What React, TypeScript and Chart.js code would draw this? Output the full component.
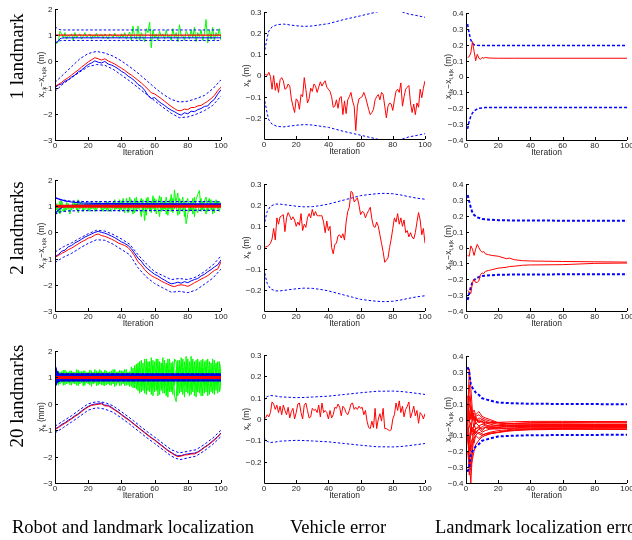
import React, { useEffect, useRef } from 'react';
import { Chart, registerables } from 'chart.js';
Chart.register(...registerables);

const W = 632;
const H = 540;
const RED = '#ff0000';
const BLUE = '#0000ff';
const GREEN = '#00ff00';

// ---------- categories / ticks ----------
const ITER = [
  0, 1, 2, 3, 4, 5, 6, 7, 8, 9,
  10, 11, 12, 13, 14, 15, 16, 17, 18, 19,
  20, 21, 22, 23, 24, 25, 26, 27, 28, 29,
  30, 31, 32, 33, 34, 35, 36, 37, 38, 39,
  40, 41, 42, 43, 44, 45, 46, 47, 48, 49,
  50, 51, 52, 53, 54, 55, 56, 57, 58, 59,
  60, 61, 62, 63, 64, 65, 66, 67, 68, 69,
  70, 71, 72, 73, 74, 75, 76, 77, 78, 79,
  80, 81, 82, 83, 84, 85, 86, 87, 88, 89,
  90, 91, 92, 93, 94, 95, 96, 97, 98, 99,
  100,
];
const ITER2 = [
  0, 2, 4, 6, 8, 10, 12, 14, 16, 18,
  20, 22, 24, 26, 28, 30, 32, 34, 36, 38,
  40, 42, 44, 46, 48, 50, 52, 54, 56, 58,
  60, 62, 64, 66, 68, 70, 72, 74, 76, 78,
  80, 82, 84, 86, 88, 90, 92, 94, 96, 98,
  100,
];
const ITER5 = [0, 5, 10, 15, 20, 25, 30, 35, 40, 45, 50, 55, 60, 65, 70, 75, 80, 85, 90, 95, 100];

const X_TICKS = [0, 20, 40, 60, 80, 100];
const X_TICK_LABELS = ['0', '20', '40', '60', '80', '100'];
const Y1_TICKS = [-3, -2, -1, 0, 1, 2];
const Y1_TICK_LABELS = ['\u22123', '\u22122', '\u22121', '0', '1', '2'];
const Y2_TICKS = [-0.2, -0.1, 0, 0.1, 0.2, 0.3];
const Y2_TICK_LABELS = ['\u22120.2', '\u22120.1', '0', '0.1', '0.2', '0.3'];
const Y3_TICKS = [-0.4, -0.3, -0.2, -0.1, 0, 0.1, 0.2, 0.3, 0.4];
const Y3_TICK_LABELS = ['\u22120.4', '\u22120.3', '\u22120.2', '\u22120.1', '0', '0.1', '0.2', '0.3', '0.4'];

const ROW_LABELS = ['1 landmark', '2 landmarks', '20 landmarks'];
const COL_LABELS = ['Robot and landmark localization', 'Vehicle error', 'Landmark localization error'];

// ---------- column 1, row 1 ----------
const R1_TRUE = [
  -0.95, -0.88, -0.8, -0.7, -0.62, -0.52, -0.42, -0.33, -0.22, -0.12,
  -0.02, 0.06, 0.14, 0.1, 0.05, 0.1, 0.02, -0.04, -0.1, -0.18,
  -0.26, -0.34, -0.44, -0.52, -0.62, -0.72, -0.82, -0.94, -1.06, -1.2,
  -1.24, -1.33, -1.42, -1.52, -1.62, -1.72, -1.8, -1.88, -1.88, -1.82,
  -1.84, -1.76, -1.76, -1.7, -1.68, -1.6, -1.52, -1.42, -1.3, -1.12,
  -0.98,
];
const R1_EST = [
  -1.0, -0.9, -0.86, -0.76, -0.7, -0.6, -0.52, -0.4, -0.33, -0.22,
  -0.12, -0.06, 0.02, -0.03, -0.06, 0.0, -0.1, -0.14, -0.2, -0.28,
  -0.38, -0.45, -0.56, -0.64, -0.74, -0.88, -0.96, -1.1, -1.3, -1.42,
  -1.38, -1.5, -1.6, -1.68, -1.78, -1.86, -1.92, -2.0, -2.05, -1.96,
  -2.0, -1.9, -1.92, -1.84, -1.8, -1.72, -1.7, -1.55, -1.45, -1.25,
  -1.08,
];
const R1_UP = [-0.8, -0.5, -0.2, 0.1, 0.3, 0.38, 0.32, 0.2, 0.02, -0.2, -0.45, -0.72, -1.0, -1.25, -1.45, -1.55, -1.52, -1.42, -1.3, -1.05, -0.7];
const R1_LO = [-1.15, -0.85, -0.62, -0.4, -0.2, -0.12, -0.15, -0.3, -0.52, -0.75, -1.0, -1.25, -1.5, -1.75, -1.98, -2.15, -2.12, -2.02, -1.88, -1.68, -1.32];
const LM1_TRUE_X = [0, 100];
const LM1_TRUE = [1.0, 1.0];
const LM1_EST_X = [0, 1, 2, 3, 4, 6, 100];
const LM1_EST = [0.75, 0.72, 0.78, 0.86, 0.89, 0.9, 0.9];
const LM1_B_X = [0, 1, 2, 3, 5, 100];
const LM1_UP = [1.32, 1.28, 1.24, 1.21, 1.2, 1.2];
const LM1_LO = [0.72, 0.74, 0.77, 0.79, 0.8, 0.8];
const G1 = [
  0.8, 0.68, 0.75, 1.15, 1.05, 0.9, 1.1, 0.85, 1.0, 0.95,
  1.05, 0.8, 1.1, 0.9, 1.0, 1.05, 0.85, 0.95, 1.1, 0.9,
  0.98, 1.05, 0.85, 1.0, 0.92, 1.08, 0.9, 1.0, 1.02, 0.88,
  1.05, 0.95, 0.85, 1.05, 1.0, 0.9, 1.08, 0.95, 1.0, 0.88,
  1.05, 0.92, 1.1, 0.85, 1.0, 1.12, 0.8, 1.35, 0.9, 0.85,
  1.35, 0.8, 1.1, 0.95, 0.75, 1.25, 1.1, 1.5, 0.52, 1.2,
  0.9, 1.05, 0.8, 1.15, 0.95, 1.05, 0.85, 1.2, 0.9, 1.0,
  0.8, 1.25, 0.9, 1.1, 0.75, 1.4, 0.95, 1.0, 0.8, 1.15,
  1.05, 0.85, 1.2, 0.9, 1.3, 0.75, 1.1, 0.95, 1.2, 0.8,
  1.05, 1.6, 0.7, 1.2, 0.85, 1.3, 0.8, 1.1, 0.95, 1.25,
  0.8,
];

// ---------- column 1, row 2 ----------
const R2_TRUE = [
  -0.95, -0.88, -0.8, -0.74, -0.66, -0.6, -0.52, -0.44, -0.36, -0.3,
  -0.22, -0.18, -0.1, -0.06, -0.12, -0.15, -0.2, -0.26, -0.32, -0.4,
  -0.45, -0.5, -0.58, -0.72, -0.9, -1.12, -1.25, -1.42, -1.55, -1.65,
  -1.72, -1.78, -1.86, -1.92, -1.98, -2.04, -2.07, -2.02, -2.0, -2.02,
  -2.06, -2.0, -1.92, -1.86, -1.78, -1.72, -1.65, -1.55, -1.45, -1.4,
  -1.12,
];
const R2_EST = [
  -0.92, -0.85, -0.72, -0.68, -0.55, -0.5, -0.4, -0.34, -0.26, -0.18,
  -0.12, -0.06, 0.0, 0.04, 0.0, -0.03, -0.08, -0.14, -0.2, -0.28,
  -0.36, -0.42, -0.5, -0.62, -0.8, -0.98, -1.1, -1.28, -1.4, -1.5,
  -1.6, -1.66, -1.75, -1.82, -1.9, -1.96, -1.94, -1.9, -1.94, -1.88,
  -1.92, -1.85, -1.8, -1.76, -1.66, -1.6, -1.5, -1.42, -1.32, -1.24,
  -1.05,
];
const R2_UP = [-0.75, -0.55, -0.4, -0.22, -0.05, 0.08, 0.05, -0.08, -0.25, -0.45, -0.85, -1.2, -1.5, -1.65, -1.8, -1.76, -1.8, -1.7, -1.5, -1.25, -0.9];
const R2_LO = [-1.15, -0.95, -0.8, -0.6, -0.42, -0.28, -0.3, -0.45, -0.65, -0.85, -1.35, -1.7, -1.95, -2.12, -2.28, -2.25, -2.3, -2.2, -1.98, -1.75, -1.4];
const LM2_TRUE_X = [0, 100];
const LM2_TRUE = [1.0, 1.0];
const LM2_EST_A_X = [0, 2, 4, 6, 10, 15, 25, 40, 100];
const LM2_EST_A = [1.32, 1.28, 1.24, 1.2, 1.16, 1.13, 1.11, 1.1, 1.09];
const LM2_EST_B_X = [0, 2, 4, 6, 10, 20, 100];
const LM2_EST_B = [0.72, 0.85, 0.95, 1.0, 1.03, 1.05, 1.06];
const LM2_B_X = [0, 3, 8, 15, 100];
const LM2_UP = [1.33, 1.25, 1.2, 1.18, 1.17];
const LM2_LO = [0.7, 0.78, 0.82, 0.83, 0.84];
const G2A = [
  0.95, 1.1, 0.75, 1.2, 0.9, 0.8, 1.05, 0.85, 1.1, 0.7,
  1.0, 0.9, 1.15, 0.85, 1.25, 0.9, 1.0, 0.8, 1.1, 0.95,
  0.85, 1.1, 0.9, 1.05, 0.8, 1.15, 0.95, 1.0, 0.85, 1.1,
  0.9, 1.2, 0.8, 1.05, 0.95, 1.15, 0.85, 1.1, 0.9, 1.25,
  0.85, 1.3, 0.9, 1.1, 0.75, 1.35, 1.0, 0.7, 1.3, 0.85,
  1.2, 0.9, 0.6, 1.25, 0.45, 1.3, 0.9, 1.1, 0.75, 1.4,
  0.8, 1.25, 0.95, 0.6, 1.35, 0.85, 1.2, 0.7, 1.1, 0.9,
  1.45, 0.75, 1.62, 1.0, 0.65, 1.3, 1.05, 0.8, 1.2, 0.33,
  0.7, 1.1, 0.85, 1.3, 0.6, 1.25, 1.45, 1.6, 0.8, 1.2,
  0.9, 0.7, 1.15, 1.3, 0.85, 1.1, 0.75, 1.25, 0.9, 1.2,
  1.05,
];
const G2B = [
  1.15, 0.85, 1.05, 0.7, 1.2, 1.0, 0.8, 1.15, 0.9, 1.05,
  0.85, 1.2, 0.95, 1.1, 0.75, 1.05, 1.2, 0.9, 0.85, 1.15,
  1.05, 0.8, 1.2, 0.9, 1.1, 0.85, 1.0, 1.2, 0.95, 0.8,
  1.1, 0.85, 1.15, 0.95, 0.8, 1.05, 1.25, 0.9, 1.15, 0.8,
  1.2, 0.95, 0.75, 1.3, 1.05, 0.8, 1.25, 1.1, 0.75, 1.35,
  0.9, 1.15, 1.3, 0.8, 1.1, 0.65, 1.35, 0.85, 1.2, 0.9,
  1.3, 0.7, 1.1, 1.4, 0.8, 1.15, 0.9, 1.35, 0.65, 1.25,
  0.8, 1.3, 0.9, 1.2, 1.5, 0.7, 1.1, 1.35, 0.6, 1.15,
  1.3, 0.8, 1.2, 0.7, 1.35, 0.9, 0.75, 1.1, 1.3, 0.85,
  1.2, 1.35, 0.8, 1.0, 1.25, 0.7, 1.2, 0.95, 1.15, 0.8,
  1.1,
];

// ---------- column 1, row 3 ----------
const R3_TRUE = [
  -0.98, -0.9, -0.82, -0.74, -0.66, -0.57, -0.48, -0.4, -0.3, -0.2,
  -0.12, -0.06, -0.04, -0.02, 0.0, -0.08, -0.08, -0.16, -0.24, -0.32,
  -0.42, -0.52, -0.6, -0.7, -0.8, -0.9, -1.0, -1.1, -1.2, -1.3,
  -1.38, -1.48, -1.58, -1.68, -1.78, -1.86, -1.94, -2.0, -1.98, -1.94,
  -1.93, -1.9, -1.9, -1.84, -1.76, -1.66, -1.58, -1.48, -1.38, -1.26,
  -1.12,
];
const R3_EST = [
  -0.95, -0.88, -0.78, -0.72, -0.62, -0.55, -0.45, -0.38, -0.27, -0.18,
  -0.1, -0.04, -0.01, 0.0, 0.03, -0.05, -0.06, -0.13, -0.22, -0.3,
  -0.4, -0.49, -0.58, -0.68, -0.78, -0.88, -0.98, -1.08, -1.18, -1.28,
  -1.36, -1.46, -1.56, -1.66, -1.76, -1.84, -1.92, -1.97, -1.96, -1.92,
  -1.9, -1.88, -1.87, -1.82, -1.74, -1.64, -1.56, -1.46, -1.35, -1.24,
  -1.1,
];
const R3_UP = [-0.85, -0.65, -0.45, -0.22, 0.0, 0.08, 0.05, -0.08, -0.3, -0.53, -0.78, -1.03, -1.26, -1.5, -1.74, -1.86, -1.8, -1.74, -1.54, -1.3, -1.0];
const R3_LO = [-1.1, -0.9, -0.69, -0.47, -0.24, -0.15, -0.2, -0.32, -0.54, -0.77, -1.02, -1.27, -1.5, -1.74, -1.98, -2.12, -2.05, -1.98, -1.78, -1.54, -1.24];
const LM3_TRUE_X = [0, 100];
const LM3_TRUE = [1.0, 1.0];
const LM3_EST_X = [0, 1, 2, 3, 5, 8, 15, 30, 60, 100];
const LM3_EST_A = [1.42, 1.2, 1.1, 1.12, 1.12, 1.12, 1.12, 1.12, 1.12, 1.12];
const LM3_EST_B = [0.7, 0.8, 0.88, 0.88, 0.88, 0.88, 0.88, 0.88, 0.88, 0.88];
const LM3_EST_C = [1.3, 1.15, 1.06, 1.05, 1.06, 1.05, 1.06, 1.05, 1.06, 1.05];
const LM3_EST_D = [0.8, 0.9, 0.95, 0.94, 0.95, 0.94, 0.95, 0.94, 0.94, 0.95];
const LM3_EST_E = [1.2, 1.08, 1.02, 1.0, 1.01, 1.0, 1.01, 1.0, 1.01, 1.0];
const LM3_EST_F = [0.9, 0.95, 0.97, 0.98, 0.97, 0.98, 0.97, 0.98, 0.97, 0.98];
const LM3_B_X = [0, 1, 2, 3, 5, 100];
const LM3_UP = [1.4, 1.25, 1.16, 1.13, 1.12, 1.12];
const LM3_LO = [0.65, 0.78, 0.85, 0.87, 0.88, 0.88];
const G3A = [
  0.75, 1.25, 0.7, 1.2, 0.8, 1.28, 0.72, 1.22, 0.78, 1.25,
  0.7, 1.2, 0.75, 1.3, 0.68, 1.22, 0.8, 1.25, 0.7, 1.18,
  0.75, 1.28, 0.66, 1.2, 0.78, 1.25, 0.7, 1.3, 0.72, 1.2,
  0.68, 1.25, 0.75, 1.22, 0.7, 1.3, 0.65, 1.2, 0.78, 1.28,
  0.7, 1.25, 0.68, 1.3, 0.72, 1.22, 0.66, 1.35, 0.6, 1.5,
  0.5, 1.6, 0.45, 1.55, 0.4, 1.7, 0.5, 1.6, 0.35, 1.65,
  0.45, 1.7, 0.3, 1.6, 0.5, 1.75, 0.4, 1.55, 0.25, 1.7,
  0.45, 1.6, 0.3, 0.08, 1.65, 0.4, 1.75, 0.35, 1.6, 0.45,
  1.7, 0.3, 1.8, 0.45, 1.6, 0.25, 1.7, 0.4, 1.65, 0.3,
  1.6, 0.45, 1.7, 0.35, 1.55, 0.4, 1.65, 0.5, 1.6, 0.45,
  1.5,
];
const G3B = [
  1.2, 0.8, 1.25, 0.75, 1.22, 0.7, 1.28, 0.75, 1.2, 0.72,
  1.25, 0.78, 1.2, 0.7, 1.28, 0.75, 1.22, 0.68, 1.25, 0.8,
  1.2, 0.72, 1.25, 0.75, 1.3, 0.68, 1.22, 0.75, 1.25, 0.7,
  1.28, 0.72, 1.2, 0.7, 1.25, 0.75, 1.3, 0.7, 1.22, 0.68,
  1.25, 0.75, 1.3, 0.7, 1.2, 0.65, 1.4, 0.6, 1.45, 0.55,
  1.55, 0.4, 1.65, 0.5, 1.7, 0.35, 1.6, 0.45, 1.75, 0.3,
  1.6, 0.5, 1.7, 0.35, 1.55, 0.4, 1.65, 0.3, 1.7, 0.45,
  1.55, 0.35, 1.7, 1.6, 0.3, 1.65, 0.45, 1.7, 0.25, 1.8,
  0.4, 1.6, 0.35, 1.7, 0.3, 1.65, 0.45, 1.6, 0.3, 1.7,
  0.4, 1.65, 0.3, 1.6, 0.45, 1.7, 0.35, 1.55, 0.4, 1.6,
  0.5,
];
const G3C = [
  0.9, 1.1, 0.85, 1.15, 0.95, 1.05, 0.88, 1.12, 0.92, 1.08,
  0.85, 1.15, 0.9, 1.1, 0.95, 1.12, 0.85, 1.1, 0.9, 1.05,
  0.88, 1.15, 0.92, 1.1, 0.85, 1.12, 0.9, 1.08, 0.95, 1.15,
  0.85, 1.1, 0.92, 1.15, 0.88, 1.05, 0.9, 1.12, 0.85, 1.1,
  0.9, 1.15, 0.85, 1.1, 0.92, 1.12, 0.8, 1.2, 0.75, 1.3,
  0.7, 1.35, 0.65, 1.3, 0.6, 1.4, 0.7, 1.35, 0.6, 1.45,
  0.65, 1.3, 0.55, 1.4, 0.7, 1.35, 0.6, 1.45, 0.65, 1.3,
  0.55, 1.4, 0.7, 1.3, 0.6, 1.45, 0.65, 1.35, 0.7, 1.4,
  0.6, 1.35, 0.55, 1.45, 0.7, 1.3, 0.6, 1.4, 0.65, 1.35,
  0.7, 1.4, 0.6, 1.3, 0.65, 1.45, 0.55, 1.35, 0.7, 1.3,
  0.8,
];

// ---------- column 2: vehicle error ----------
const VE1 = [
  0.0, 0.005, 0.0, 0.015, -0.005, -0.065, 0.0, -0.07, -0.035, -0.08,
  -0.02, -0.01, -0.025, -0.065, -0.06, -0.04, -0.05, -0.11, -0.145, -0.175,
  -0.11, -0.12, -0.16, -0.09, -0.1, -0.01, -0.065, -0.13, -0.11, -0.06,
  -0.075, -0.04, -0.05, -0.08, -0.055, -0.03, -0.05, -0.035, -0.025, -0.055,
  -0.065, -0.075, -0.1, -0.15, -0.145, -0.115, -0.155, -0.105, -0.1, -0.185,
  -0.12, -0.18, -0.115, -0.1, -0.08, -0.12, -0.145, -0.26, -0.145, -0.11,
  -0.105, -0.1, -0.08, -0.1, -0.13, -0.16, -0.185, -0.175, -0.16, -0.115,
  -0.1, -0.09, -0.115, -0.08, -0.09, -0.145, -0.2, -0.145, -0.13, -0.135,
  -0.165, -0.115, -0.075, -0.065, -0.08, -0.035, -0.145, -0.1, -0.065, -0.055,
  -0.047, -0.13, -0.175, -0.135, -0.185, -0.13, -0.15, -0.065, -0.105, -0.06,
  -0.025,
];
const VB1_X = [0, 1, 2, 3, 5, 8, 12, 20, 25, 30, 40, 50, 60, 70, 75, 80, 86, 90, 95, 100];
const VB1_UP = [0.1, 0.14, 0.18, 0.21, 0.23, 0.24, 0.243, 0.235, 0.232, 0.234, 0.245, 0.265, 0.282, 0.3, 0.31, 0.31, 0.3, 0.29, 0.283, 0.275];
const VB1_LO = [-0.1, -0.14, -0.18, -0.21, -0.23, -0.24, -0.243, -0.235, -0.232, -0.234, -0.245, -0.265, -0.282, -0.3, -0.31, -0.31, -0.3, -0.29, -0.283, -0.275];
const VE2 = [
  0.0, 0.003, 0.005, 0.01, 0.02, 0.04, 0.09, 0.035, 0.14, 0.11,
  0.145, 0.15, 0.155, 0.075, 0.14, 0.165, 0.15, 0.13, 0.145, 0.13,
  0.1, 0.12, 0.105, 0.16, 0.08, 0.11, 0.095, 0.14, 0.16, 0.14,
  0.18, 0.15, 0.17, 0.15, 0.15, 0.15, 0.15, 0.12, 0.07, 0.125,
  0.08, 0.1, 0.0, -0.03, 0.015, 0.02, 0.055, 0.06, 0.045, 0.065,
  0.035, 0.12, 0.17, 0.19, 0.265, 0.26, 0.215, 0.225, 0.235, 0.2,
  0.155, 0.17, 0.165, 0.14, 0.16, 0.175, 0.19, 0.135, 0.1, 0.095,
  0.12, 0.1, 0.06, 0.02, -0.02, -0.07, -0.06, -0.05, 0.0, 0.04,
  0.09, 0.14, 0.12, 0.16, 0.11, 0.14, 0.1, 0.13, 0.07, 0.08,
  0.05, 0.07, 0.05, 0.04, 0.07, 0.12, 0.165, 0.13, 0.06, 0.09,
  0.02,
];
const VB2_X = [0, 1, 2, 4, 7, 10, 15, 20, 25, 30, 35, 40, 45, 50, 55, 60, 65, 70, 75, 80, 85, 90, 95, 100];
const VB2_UP = [0.1, 0.14, 0.17, 0.195, 0.205, 0.205, 0.2, 0.195, 0.192, 0.193, 0.198, 0.205, 0.215, 0.225, 0.235, 0.245, 0.25, 0.254, 0.256, 0.254, 0.248, 0.24, 0.233, 0.228];
const VB2_LO = [-0.1, -0.14, -0.17, -0.195, -0.205, -0.205, -0.2, -0.195, -0.192, -0.193, -0.198, -0.205, -0.215, -0.225, -0.235, -0.245, -0.25, -0.254, -0.256, -0.254, -0.248, -0.24, -0.233, -0.228];
const VE3 = [
  0.0, 0.005, 0.02, 0.01, 0.03, 0.08, 0.07, 0.045, 0.065, 0.03,
  0.06, 0.02, 0.065, 0.04, 0.02, 0.055, 0.005, 0.035, 0.05, 0.0,
  0.03, 0.07, 0.075, 0.03, 0.0, 0.065, 0.075, 0.04, 0.005, 0.01,
  0.05, 0.04, 0.045, 0.03, 0.065, 0.01, 0.075, 0.03, 0.04, 0.03,
  0.0, 0.04, 0.005, 0.02, 0.055, 0.05, 0.07, 0.055, 0.015, 0.06,
  0.05, 0.03, 0.02, 0.04, 0.07, 0.075, 0.045, 0.055, 0.045, 0.06,
  0.05, 0.055, 0.02, 0.04, -0.01, -0.04, -0.045, -0.01, -0.04, 0.05,
  -0.045, 0.0, 0.025, -0.01, 0.05, -0.045, -0.045, -0.05, -0.055, -0.05,
  0.0, 0.02, 0.075, 0.04, 0.085, 0.03, 0.06, 0.01, 0.045, 0.06,
  0.08, 0.005, 0.03, 0.06, 0.015, 0.04, -0.02, 0.03, 0.02, 0.0,
  0.025,
];
const VB3_X = [0, 1, 2, 4, 7, 10, 15, 20, 25, 30, 40, 50, 60, 70, 80, 85, 90, 95, 100];
const VB3_UP = [0.085, 0.1, 0.105, 0.11, 0.108, 0.104, 0.102, 0.1, 0.101, 0.103, 0.107, 0.115, 0.123, 0.13, 0.131, 0.129, 0.125, 0.12, 0.115];
const VB3_LO = [-0.085, -0.1, -0.105, -0.11, -0.108, -0.104, -0.102, -0.1, -0.101, -0.103, -0.107, -0.115, -0.123, -0.13, -0.131, -0.129, -0.125, -0.12, -0.115];

// ---------- column 3: landmark error ----------
const LE1_X = [1, 2, 3, 4, 5, 6, 7, 8, 9, 10, 11, 12, 13, 15, 20, 30, 100];
const LE1 = [0.12, 0.125, 0.15, 0.22, 0.16, 0.1, 0.14, 0.115, 0.108, 0.12, 0.115, 0.12, 0.118, 0.116, 0.115, 0.115, 0.115];
const LB1_X = [1, 2, 3, 4, 5, 7, 10, 100];
const LB1_UP = [0.33, 0.27, 0.23, 0.21, 0.2, 0.197, 0.195, 0.195];
const LB1_LO_X = [1, 2, 3, 4, 6, 8, 12, 100];
const LB1_LO = [-0.33, -0.28, -0.25, -0.23, -0.21, -0.2, -0.196, -0.195];

const LE2_X = [1, 2, 3, 4, 5, 6, 7, 8, 9, 10, 11, 12, 14, 16, 20, 25, 27, 30, 35, 40, 60, 80, 100];
const LE2_A = [-0.05, -0.055, 0.01, -0.01, -0.05, -0.01, 0.02, 0.0, -0.02, -0.03, -0.025, -0.04, -0.045, -0.05, -0.055, -0.07, -0.067, -0.077, -0.083, -0.085, -0.088, -0.09, -0.092];
const LE2_B = [-0.27, -0.28, -0.29, -0.22, -0.2, -0.22, -0.22, -0.21, -0.17, -0.16, -0.165, -0.15, -0.145, -0.14, -0.13, -0.125, -0.12, -0.118, -0.112, -0.11, -0.108, -0.1, -0.098];
const LB2_X = [1, 2, 3, 4, 5, 7, 10, 15, 20, 30, 100];
const LB2_UP = [0.33, 0.29, 0.25, 0.22, 0.205, 0.19, 0.18, 0.175, 0.172, 0.17, 0.168];
const LB2_LO = [-0.33, -0.29, -0.25, -0.22, -0.205, -0.19, -0.18, -0.175, -0.172, -0.17, -0.168];

const LE3_X = [1, 2, 3, 4, 5, 6, 8, 10, 12, 15, 20, 25, 30, 40, 60, 80, 100];
const LE3_S1 = [0.0, 0.32, 0.2, 0.05, 0.02, -0.02, -0.04, -0.03, -0.04, -0.05, -0.05, -0.04, -0.04, -0.035, -0.03, -0.03, -0.03];
const LE3_S2 = [-0.1, -0.25, -0.4, -0.2, -0.1, -0.08, -0.09, -0.1, -0.09, -0.08, -0.07, -0.065, -0.06, -0.058, -0.058, -0.06, -0.06];
const LE3_S3 = [0.05, 0.22, 0.1, 0.03, 0.04, 0.02, 0.03, 0.01, 0.0, -0.01, -0.02, -0.025, -0.025, -0.02, -0.018, -0.015, -0.015];
const LE3_S4 = [-0.05, -0.22, -0.3, -0.15, -0.12, -0.1, -0.12, -0.1, -0.09, -0.085, -0.08, -0.072, -0.066, -0.06, -0.056, -0.054, -0.052];
const LE3_S5 = [0.0, 0.1, 0.05, 0.04, 0.06, 0.03, 0.05, 0.02, 0.01, 0.0, -0.02, -0.025, -0.028, -0.028, -0.028, -0.03, -0.03];
const LE3_S6 = [-0.05, -0.05, -0.02, -0.08, -0.03, -0.06, -0.04, -0.07, -0.05, -0.06, -0.05, -0.048, -0.044, -0.043, -0.043, -0.043, -0.043];
const LE3_S7 = [0.02, 0.0, 0.08, 0.0, -0.05, 0.02, -0.02, -0.01, -0.03, -0.02, -0.03, -0.033, -0.037, -0.037, -0.037, -0.037, -0.037];
const LE3_S8 = [-0.08, -0.15, -0.05, -0.1, -0.07, -0.09, -0.06, -0.08, -0.07, -0.06, -0.06, -0.055, -0.052, -0.048, -0.048, -0.048, -0.048];
const LE3_S9 = [0.1, 0.05, 0.0, 0.04, 0.02, -0.01, 0.01, 0.0, -0.01, -0.02, -0.022, -0.025, -0.025, -0.022, -0.02, -0.02, -0.02];
const LE3_S10 = [-0.02, -0.1, -0.2, -0.12, -0.15, -0.1, -0.08, -0.09, -0.1, -0.09, -0.08, -0.07, -0.066, -0.062, -0.06, -0.062, -0.063];
const LE3_S11 = [0.05, -0.02, 0.04, 0.0, 0.02, -0.03, 0.0, -0.02, -0.035, -0.04, -0.04, -0.036, -0.034, -0.033, -0.033, -0.033, -0.033];
const LE3_S12 = [-0.12, -0.2, -0.08, -0.05, -0.09, -0.06, -0.05, -0.06, -0.05, -0.055, -0.056, -0.056, -0.055, -0.053, -0.052, -0.052, -0.052];
const LE3_S13 = [0.15, 0.02, -0.1, 0.05, 0.0, 0.01, -0.02, 0.0, -0.02, -0.03, -0.04, -0.043, -0.045, -0.046, -0.045, -0.044, -0.044];
const LE3_S14 = [-0.2, -0.3, -0.15, -0.12, -0.06, -0.08, -0.06, -0.045, -0.05, -0.045, -0.04, -0.04, -0.041, -0.04, -0.039, -0.038, -0.038];
const LE3_S15 = [0.0, -0.35, -0.3, -0.25, -0.2, -0.16, -0.13, -0.11, -0.1, -0.09, -0.082, -0.075, -0.07, -0.065, -0.062, -0.06, -0.06];
const LE3_S16 = [-0.02, 0.15, 0.05, 0.02, -0.01, 0.0, -0.01, -0.015, -0.02, -0.02, -0.018, -0.016, -0.014, -0.012, -0.012, -0.013, -0.013];
const LB3_X = [1, 2, 3, 4, 5, 6, 8, 10, 13, 16, 20, 25, 30, 40, 100];
const LB3_UP = [0.33, 0.3, 0.22, 0.2, 0.186, 0.17, 0.155, 0.134, 0.125, 0.117, 0.107, 0.104, 0.102, 0.099, 0.096];
const LB3_LO = [-0.33, -0.3, -0.22, -0.2, -0.186, -0.17, -0.155, -0.134, -0.125, -0.117, -0.107, -0.104, -0.102, -0.099, -0.096];

// ---------- helpers ----------
type Part = [string, boolean];
const pts = (xs: number[], ys: number[]) => ys.map((y, i) => ({ x: xs[i], y }));

function line(xs: number[], ys: number[], color: string, width: number, dash?: number[]) {
  return {
    data: pts(xs, ys),
    borderColor: color,
    borderWidth: width,
    borderDash: dash || [],
    pointRadius: 0,
    tension: 0,
    fill: false,
    borderJoinStyle: 'round',
  };
}

interface Panel {
  area: [number, number, number, number];
  yMin: number;
  yMax: number;
  yTicks: number[];
  yTickLabels: string[];
  yLabel: Part[];
  yLabelX: number;
  layers: any[]; // bottom -> top
}

const LBL_COL1: Part[] = [['x', false], ['r,k', true], ['\u2212x', false], ['r,k|k', true], [' (m)', false]];
const LBL_COL1_MM: Part[] = [['x', false], ['k', true], [' (mm)', false]];
const LBL_COL2: Part[] = [['x', false], ['k', true], [' (m)', false]];
const LBL_COL3: Part[] = [['x', false], ['l,k', true], ['\u2212x', false], ['l,k|k', true], [' (m)', false]];

const DASH = [2.5, 2];
const DASH_THICK = [3, 2];

const PANELS: Panel[] = [
  {
    area: [55, 9, 221, 140], yMin: -3, yMax: 2, yTicks: Y1_TICKS, yTickLabels: Y1_TICK_LABELS,
    yLabel: LBL_COL1, yLabelX: 44,
    layers: [
      line(ITER, G1, GREEN, 1),
      line(LM1_B_X, LM1_UP, BLUE, 1, DASH),
      line(LM1_B_X, LM1_LO, BLUE, 1, DASH),
      line(LM1_EST_X, LM1_EST, BLUE, 1),
      line(LM1_TRUE_X, LM1_TRUE, RED, 1.2),
      line(ITER5, R1_UP, BLUE, 1, DASH),
      line(ITER5, R1_LO, BLUE, 1, DASH),
      line(ITER2, R1_EST, BLUE, 1),
      line(ITER2, R1_TRUE, RED, 1),
    ],
  },
  {
    area: [264, 12, 425, 139], yMin: -0.3, yMax: 0.3, yTicks: Y2_TICKS, yTickLabels: Y2_TICK_LABELS,
    yLabel: LBL_COL2, yLabelX: 249,
    layers: [
      line(VB1_X, VB1_UP, BLUE, 1, DASH),
      line(VB1_X, VB1_LO, BLUE, 1, DASH),
      line(ITER, VE1, RED, 1),
    ],
  },
  {
    area: [466, 13, 627, 140], yMin: -0.4, yMax: 0.4, yTicks: Y3_TICKS, yTickLabels: Y3_TICK_LABELS,
    yLabel: LBL_COL3, yLabelX: 451,
    layers: [
      line(LB1_X, LB1_UP, BLUE, 1.5, DASH_THICK),
      line(LB1_LO_X, LB1_LO, BLUE, 1.5, DASH_THICK),
      line(LE1_X, LE1, RED, 1),
    ],
  },
  {
    area: [55, 180, 221, 311], yMin: -3, yMax: 2, yTicks: Y1_TICKS, yTickLabels: Y1_TICK_LABELS,
    yLabel: LBL_COL1, yLabelX: 44,
    layers: [
      line(ITER, G2A, GREEN, 1),
      line(ITER, G2B, GREEN, 1),
      line(LM2_B_X, LM2_UP, BLUE, 1.2, DASH),
      line(LM2_B_X, LM2_LO, BLUE, 1.2, DASH),
      line(LM2_EST_A_X, LM2_EST_A, BLUE, 1.2),
      line(LM2_EST_B_X, LM2_EST_B, BLUE, 1.2),
      line(LM2_TRUE_X, LM2_TRUE, RED, 3),
      line(ITER5, R2_UP, BLUE, 1, DASH),
      line(ITER5, R2_LO, BLUE, 1, DASH),
      line(ITER2, R2_EST, BLUE, 1),
      line(ITER2, R2_TRUE, RED, 1),
    ],
  },
  {
    area: [264, 184, 425, 311], yMin: -0.3, yMax: 0.3, yTicks: Y2_TICKS, yTickLabels: Y2_TICK_LABELS,
    yLabel: LBL_COL2, yLabelX: 249,
    layers: [
      line(VB2_X, VB2_UP, BLUE, 1, DASH),
      line(VB2_X, VB2_LO, BLUE, 1, DASH),
      line(ITER, VE2, RED, 1),
    ],
  },
  {
    area: [466, 184, 627, 311], yMin: -0.4, yMax: 0.4, yTicks: Y3_TICKS, yTickLabels: Y3_TICK_LABELS,
    yLabel: LBL_COL3, yLabelX: 451,
    layers: [
      line(LB2_X, LB2_UP, BLUE, 2, DASH_THICK),
      line(LB2_X, LB2_LO, BLUE, 2, DASH_THICK),
      line(LE2_X, LE2_A, RED, 1),
      line(LE2_X, LE2_B, RED, 1),
    ],
  },
  {
    area: [55, 351, 221, 483], yMin: -3, yMax: 2, yTicks: Y1_TICKS, yTickLabels: Y1_TICK_LABELS,
    yLabel: LBL_COL1_MM, yLabelX: 44,
    layers: [
      line(ITER, G3A, GREEN, 1),
      line(ITER, G3B, GREEN, 1),
      line(ITER, G3C, GREEN, 1),
      line(LM3_EST_X, LM3_EST_A, BLUE, 2),
      line(LM3_EST_X, LM3_EST_B, BLUE, 2),
      line(LM3_EST_X, LM3_EST_C, BLUE, 2),
      line(LM3_EST_X, LM3_EST_D, BLUE, 2),
      line(LM3_EST_X, LM3_EST_E, BLUE, 2),
      line(LM3_EST_X, LM3_EST_F, BLUE, 2),
      line(LM3_B_X, LM3_UP, '#0000aa', 1.5, DASH_THICK),
      line(LM3_B_X, LM3_LO, '#0000aa', 1.5, DASH_THICK),
      line(LM3_TRUE_X, LM3_TRUE, RED, 3),
      line(ITER5, R3_UP, BLUE, 1, DASH),
      line(ITER5, R3_LO, BLUE, 1, DASH),
      line(ITER2, R3_EST, BLUE, 1),
      line(ITER2, R3_TRUE, RED, 1),
    ],
  },
  {
    area: [264, 355, 425, 483], yMin: -0.3, yMax: 0.3, yTicks: Y2_TICKS, yTickLabels: Y2_TICK_LABELS,
    yLabel: LBL_COL2, yLabelX: 249,
    layers: [
      line(VB3_X, VB3_UP, BLUE, 1, DASH),
      line(VB3_X, VB3_LO, BLUE, 1, DASH),
      line(ITER, VE3, RED, 1),
    ],
  },
  {
    area: [466, 356, 627, 483], yMin: -0.4, yMax: 0.4, yTicks: Y3_TICKS, yTickLabels: Y3_TICK_LABELS,
    yLabel: LBL_COL3, yLabelX: 451,
    layers: [
      line(LE3_X, LE3_S1, RED, 1),
      line(LE3_X, LE3_S2, RED, 1),
      line(LE3_X, LE3_S3, RED, 1),
      line(LE3_X, LE3_S4, RED, 1),
      line(LE3_X, LE3_S5, RED, 1),
      line(LE3_X, LE3_S6, RED, 1),
      line(LE3_X, LE3_S7, RED, 1),
      line(LE3_X, LE3_S8, RED, 1),
      line(LE3_X, LE3_S9, RED, 1),
      line(LE3_X, LE3_S10, RED, 1),
      line(LE3_X, LE3_S11, RED, 1),
      line(LE3_X, LE3_S12, RED, 1),
      line(LE3_X, LE3_S13, RED, 1),
      line(LE3_X, LE3_S14, RED, 1),
      line(LE3_X, LE3_S15, RED, 1),
      line(LE3_X, LE3_S16, RED, 1),
      line(LB3_X, LB3_UP, BLUE, 2, DASH_THICK),
      line(LB3_X, LB3_LO, BLUE, 2, DASH_THICK),
    ],
  },
];

const SANS = '"Liberation Sans", Arial, Helvetica, sans-serif';
const SERIF = '"Liberation Serif", "Times New Roman", Times, serif';
const TXT = '#262626';

function drawYLabel(ctx: CanvasRenderingContext2D, parts: Part[], bx: number, cy: number) {
  const mainFont = `8.5px ${SANS}`;
  const subFont = `6px ${SANS}`;
  let total = 0;
  const widths = parts.map(([t, s]) => {
    ctx.font = s ? subFont : mainFont;
    const w = ctx.measureText(t).width;
    total += w;
    return w;
  });
  ctx.save();
  ctx.translate(bx, cy);
  ctx.rotate(-Math.PI / 2);
  ctx.textAlign = 'left';
  ctx.textBaseline = 'alphabetic';
  ctx.fillStyle = TXT;
  let x = -total / 2;
  parts.forEach(([t, s], i) => {
    ctx.font = s ? subFont : mainFont;
    ctx.fillText(t, x, s ? 2 : 0);
    x += widths[i];
  });
  ctx.restore();
}

function axesPlugin(p: Panel, withPageText: boolean) {
  return {
    id: 'matlabAxes',
    afterDraw(chart: any) {
      const ctx: CanvasRenderingContext2D = chart.ctx;
      const { left, top, right, bottom } = chart.chartArea;
      const xs = chart.scales.x;
      const ys = chart.scales.y;
      ctx.save();
      ctx.strokeStyle = '#000';
      ctx.lineWidth = 1;
      ctx.beginPath();
      ctx.moveTo(left + 0.5, top);
      ctx.lineTo(left + 0.5, bottom + 0.5);
      ctx.lineTo(right, bottom + 0.5);
      ctx.stroke();
      // ticks (inward)
      ctx.beginPath();
      X_TICKS.forEach((v) => {
        const px = Math.round(xs.getPixelForValue(v)) + 0.5;
        ctx.moveTo(px, bottom);
        ctx.lineTo(px, bottom - 3);
      });
      p.yTicks.forEach((v) => {
        const py = Math.round(ys.getPixelForValue(v)) + 0.5;
        ctx.moveTo(left, py);
        ctx.lineTo(left + 3, py);
      });
      ctx.stroke();
      // tick labels
      ctx.fillStyle = TXT;
      ctx.font = `8px ${SANS}`;
      ctx.textAlign = 'center';
      ctx.textBaseline = 'alphabetic';
      X_TICKS.forEach((v, i) => {
        ctx.fillText(X_TICK_LABELS[i], xs.getPixelForValue(v), bottom + 7.5);
      });
      ctx.textAlign = 'right';
      p.yTicks.forEach((v, i) => {
        ctx.fillText(p.yTickLabels[i], left - 2.5, ys.getPixelForValue(v) + 2.9);
      });
      // axis titles
      ctx.font = `8.5px ${SANS}`;
      ctx.textAlign = 'center';
      ctx.fillText('Iteration', (left + right) / 2, bottom + 15);
      drawYLabel(ctx, p.yLabel, p.yLabelX, (top + bottom) / 2);

      if (withPageText) {
        ctx.fillStyle = '#000';
        ctx.font = `19px ${SERIF}`;
        const rowCenters = [56.5, 228, 396];
        ROW_LABELS.forEach((t, i) => {
          ctx.save();
          ctx.translate(23, rowCenters[i]);
          ctx.rotate(-Math.PI / 2);
          ctx.textAlign = 'center';
          ctx.textBaseline = 'alphabetic';
          ctx.fillText(t, 0, 0);
          ctx.restore();
        });
        ctx.font = `18.5px ${SERIF}`;
        const colStarts = [12, 290, 435];
        ctx.textAlign = 'left';
        ctx.textBaseline = 'alphabetic';
        COL_LABELS.forEach((t, i) => ctx.fillText(t, colStarts[i], 533));
      }
      ctx.restore();
    },
  };
}

function buildConfig(p: Panel, withPageText: boolean): any {
  const [l, t, r, b] = p.area;
  const datasets = p.layers.slice().reverse();
  return {
    type: 'line',
    data: { datasets },
    options: {
      responsive: false,
      animation: false,
      devicePixelRatio: 1,
      parsing: true,
      layout: { padding: { left: l, top: t, right: W - r, bottom: H - b } },
      plugins: { legend: { display: false }, tooltip: { enabled: false } },
      events: [],
      scales: {
        x: { type: 'linear', min: 0, max: 100, display: false },
        y: { type: 'linear', min: p.yMin, max: p.yMax, display: false },
      },
    },
    plugins: [axesPlugin(p, withPageText)],
  };
}

export default function App() {
  const refs = useRef<(HTMLCanvasElement | null)[]>([]);
  useEffect(() => {
    const charts = PANELS.map((p, i) => new Chart(refs.current[i] as HTMLCanvasElement, buildConfig(p, i === 0)));
    return () => charts.forEach((c) => c.destroy());
  }, []);
  return (
    <div style={{ position: 'fixed', left: 0, top: 0, width: W, height: H, background: '#fff', overflow: 'hidden' }}>
      {PANELS.map((_, i) => (
        <canvas
          key={i}
          ref={(el) => {
            refs.current[i] = el;
          }}
          width={W}
          height={H}
          style={{ position: 'absolute', left: 0, top: 0, width: W, height: H }}
        />
      ))}
    </div>
  );
}
